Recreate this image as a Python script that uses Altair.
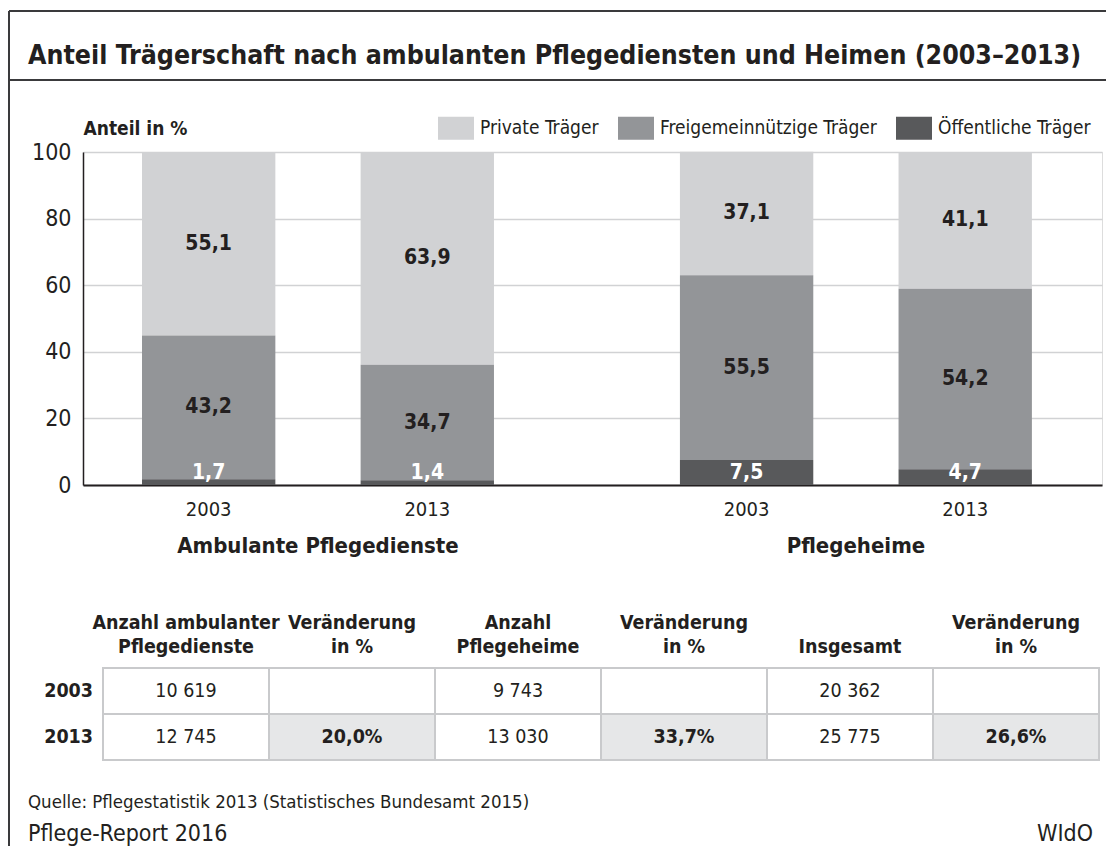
import altair as alt
import pandas as pd

FONT = "Liberation Sans Narrow, DejaVu Sans Condensed, sans-serif"
TEXT = "#231f20"

title_text = "Anteil Trägerschaft nach ambulanten Pflegediensten und Heimen (2003–2013)"
groups = ["Ambulante Pflegedienste", "Pflegeheime"]
years = ["2003", "2013"]
traeger = ["Private Träger", "Freigemeinnützige Träger", "Öffentliche Träger"]
colors = ["#d1d2d4", "#939598", "#58595b"]

# order of bars: Ambulant 2003, Ambulant 2013, Heime 2003, Heime 2013
private = [55.1, 63.9, 37.1, 41.1]
freigemein = [43.2, 34.7, 55.5, 54.2]
oeffentlich = [1.7, 1.4, 7.5, 4.7]

# table
col_keys = ["amb", "amb_pct", "heim", "heim_pct", "ges", "ges_pct"]
header_line1 = ["Anzahl ambulanter", "Veränderung", "Anzahl", "Veränderung", "", "Veränderung"]
header_line2 = ["Pflegedienste", "in %", "Pflegeheime", "in %", "Insgesamt", "in %"]
anzahl_amb = [10619, 12745]
anzahl_heim = [9743, 13030]
anzahl_ges = [20362, 25775]
veraenderung = [20.0, 33.7, 26.6]

quelle = "Quelle: Pflegestatistik 2013 (Statistisches Bundesamt 2015)"
report = "Pflege-Report 2016"
wido = "WIdO"


def de(v):
    return f"{v:.1f}".replace(".", ",")


def num(n):
    return f"{n:,}".replace(",", " ")


bottom_up = list(reversed(traeger))
rows = []
for gi, g in enumerate(groups):
    for yi, yr in enumerate(years):
        i = gi * 2 + yi
        for t, vals in zip(traeger, [private, freigemein, oeffentlich]):
            rows.append({"gruppe": g, "jahr": yr, "traeger": t, "wert": vals[i],
                         "rang": bottom_up.index(t), "label": de(vals[i])})
df = pd.DataFrame(rows)

W, H = 1019, 333

base = alt.Chart(df).transform_stack(
    stack="wert", groupby=["gruppe", "jahr"], as_=["y0", "y1"],
    sort=[alt.SortField("rang", order="ascending")]
)

x_enc = alt.X("gruppe:N", sort=groups,
              scale=alt.Scale(paddingInner=0.3457, paddingOuter=0.12, align=0.457),
              axis=alt.Axis(title=None, labelAngle=0, labelFont=FONT, labelFontSize=22,
                            labelFontWeight="bold", labelColor=TEXT, labelPadding=50, labelLimit=0,
                            ticks=False, domainColor="#231f20", domainWidth=2, grid=False))
xo_enc = alt.XOffset("jahr:N", sort=years, scale=alt.Scale(paddingInner=0.39, paddingOuter=0))

bars = base.mark_bar().encode(
    x=x_enc,
    xOffset=xo_enc,
    y=alt.Y("y0:Q", scale=alt.Scale(domain=[0, 100], nice=False),
            axis=alt.Axis(values=[0, 20, 40, 60, 80, 100], title="Anteil in %", titleAngle=0,
                          titleX=0, titleY=-18, titleAlign="left", titleBaseline="alphabetic",
                          titleFont=FONT, titleFontSize=19, titleFontWeight="bold", titleColor=TEXT,
                          labelFont=FONT, labelFontSize=23, labelColor=TEXT, labelPadding=12,
                          ticks=False, domainColor="#231f20", domainWidth=1.5,
                          gridColor="#d1d2d4", gridWidth=1.5)),
    y2="y1:Q",
    color=alt.Color("traeger:N", scale=alt.Scale(domain=traeger, range=colors),
                    legend=alt.Legend(title=None, orient="none", legendX=355, legendY=-42,
                                      direction="horizontal",
                                      symbolType="M-1,-0.64H1V0.64H-1Z", symbolSize=1296,
                                      symbolStrokeWidth=0, symbolOpacity=1,
                                      labelFont=FONT, labelFontSize=19, labelColor=TEXT,
                                      labelLimit=0, labelOffset=6, columnPadding=19, padding=0)),
)

bar_labels = base.transform_calculate(
    labely="datum.traeger === 'Öffentliche Träger' ? 3.75 : (datum.y0 + datum.y1) / 2"
).mark_text(font=FONT, fontSize=21, fontWeight="bold", baseline="middle").encode(
    x=x_enc, xOffset=xo_enc,
    y=alt.Y("labely:Q"),
    text="label:N",
    color=alt.condition("datum.traeger === 'Öffentliche Träger'", alt.value("white"), alt.value(TEXT)),
)

year_df = pd.DataFrame([{"gruppe": g, "jahr": yr} for g in groups for yr in years])
year_labels = alt.Chart(year_df).mark_text(font=FONT, fontSize=20, baseline="alphabetic",
                                           color=TEXT).encode(
    x=x_enc, xOffset=xo_enc, y=alt.value(H + 31), text="jahr:N")

group_a = alt.layer(bars, bar_labels, year_labels)

# ---------- table ----------
trows = []
for ri, yr in enumerate(years):
    cells = [num(anzahl_amb[ri]), de(veraenderung[0]) + "%" if ri == 1 else "",
             num(anzahl_heim[ri]), de(veraenderung[1]) + "%" if ri == 1 else "",
             num(anzahl_ges[ri]), de(veraenderung[2]) + "%" if ri == 1 else ""]
    for ck, v in zip(col_keys, cells):
        trows.append({"row": yr, "col": ck, "v": v, "kind": "pct" if ck.endswith("pct") else "num"})
tdf = pd.DataFrame(trows)

tx = alt.X("col:N", sort=col_keys, scale=alt.Scale(range=[20, 1016], paddingInner=0, paddingOuter=0),
           axis=None)
ty = alt.Y("row:N", sort=years, scale=alt.Scale(range=[516, 608], paddingInner=0, paddingOuter=0),
           axis=None)

cells = alt.Chart(tdf).mark_rect(stroke="#c9cacc", strokeWidth=2).encode(
    x=tx, y=ty,
    fill=alt.condition("datum.kind === 'pct' && datum.v !== ''", alt.value("#e6e7e8"), alt.value("white")),
)
cell_num = alt.Chart(tdf).transform_filter("datum.kind === 'num'").mark_text(
    font=FONT, fontSize=19.5, color=TEXT, baseline="middle").encode(x=tx, y=ty, text="v:N")
cell_pct = alt.Chart(tdf).transform_filter("datum.kind === 'pct'").mark_text(
    font=FONT, fontSize=19.5, fontWeight="bold", color=TEXT, baseline="middle").encode(x=tx, y=ty, text="v:N")

hdf = pd.DataFrame({"col": col_keys, "h1": header_line1, "h2": header_line2})
head1 = alt.Chart(hdf).mark_text(font=FONT, fontSize=19.5, fontWeight="bold", color=TEXT,
                                 baseline="alphabetic").encode(
    x=tx, y=alt.value(477), text="h1:N")
head2 = alt.Chart(hdf).mark_text(font=FONT, fontSize=19.5, fontWeight="bold", color=TEXT,
                                 baseline="alphabetic").encode(
    x=tx, y=alt.value(501), text="h2:N")

rdf = pd.DataFrame({"row": years})
row_labels = alt.Chart(rdf).mark_text(font=FONT, fontSize=19.5, fontWeight="bold", color=TEXT,
                                      align="right", baseline="middle").encode(
    x=alt.value(10), y=ty, text="row:N")

group_b = alt.layer(cells, cell_num, cell_pct, head1, head2, row_labels)


# ---------- frame & annotations ----------
def one(txt):
    return pd.DataFrame({"t": [txt]})


FRAME = "#3a3a3c"
top_rule = alt.Chart(one("")).mark_rule(color=FRAME, strokeWidth=2).encode(
    x=alt.value(-74), x2=alt.value(1030), y=alt.value(-141))
sep_rule = alt.Chart(one("")).mark_rule(color=FRAME, strokeWidth=2).encode(
    x=alt.value(-74), x2=alt.value(1030), y=alt.value(-72))
left_rule = alt.Chart(one("")).mark_rule(color=FRAME, strokeWidth=2).encode(
    x=alt.value(-74), y=alt.value(-141), y2=alt.value(700))

title = alt.Chart(one(title_text)).mark_text(font=FONT, fontSize=26.5, fontWeight="bold", color=TEXT,
                                             align="left", baseline="middle").encode(
    x=alt.value(-55), y=alt.value(-96), text="t:N")
src = alt.Chart(one(quelle)).mark_text(font=FONT, fontSize=18.5, color=TEXT, align="left",
                                       baseline="middle").encode(
    x=alt.value(-55), y=alt.value(650), text="t:N")
rep = alt.Chart(one(report)).mark_text(font=FONT, fontSize=23, color=TEXT, align="left",
                                       baseline="middle").encode(
    x=alt.value(-55), y=alt.value(682), text="t:N")
wd = alt.Chart(one(wido)).mark_text(font=FONT, fontSize=23, color=TEXT, align="right",
                                    baseline="middle").encode(
    x=alt.value(1010), y=alt.value(682), text="t:N")

chart = alt.layer(group_a, group_b, top_rule, sep_rule, left_rule, title, src, rep, wd).resolve_scale(
    x="independent", y="independent"
).properties(
    width=W, height=H,
    autosize=alt.AutoSizeParams(type="none"),
    padding={"left": 75, "top": 144, "right": 4, "bottom": 361},
).configure_view(stroke=None).configure(background="white")

chart.save("out.html", embed_options={"renderer": "svg", "actions": False})
